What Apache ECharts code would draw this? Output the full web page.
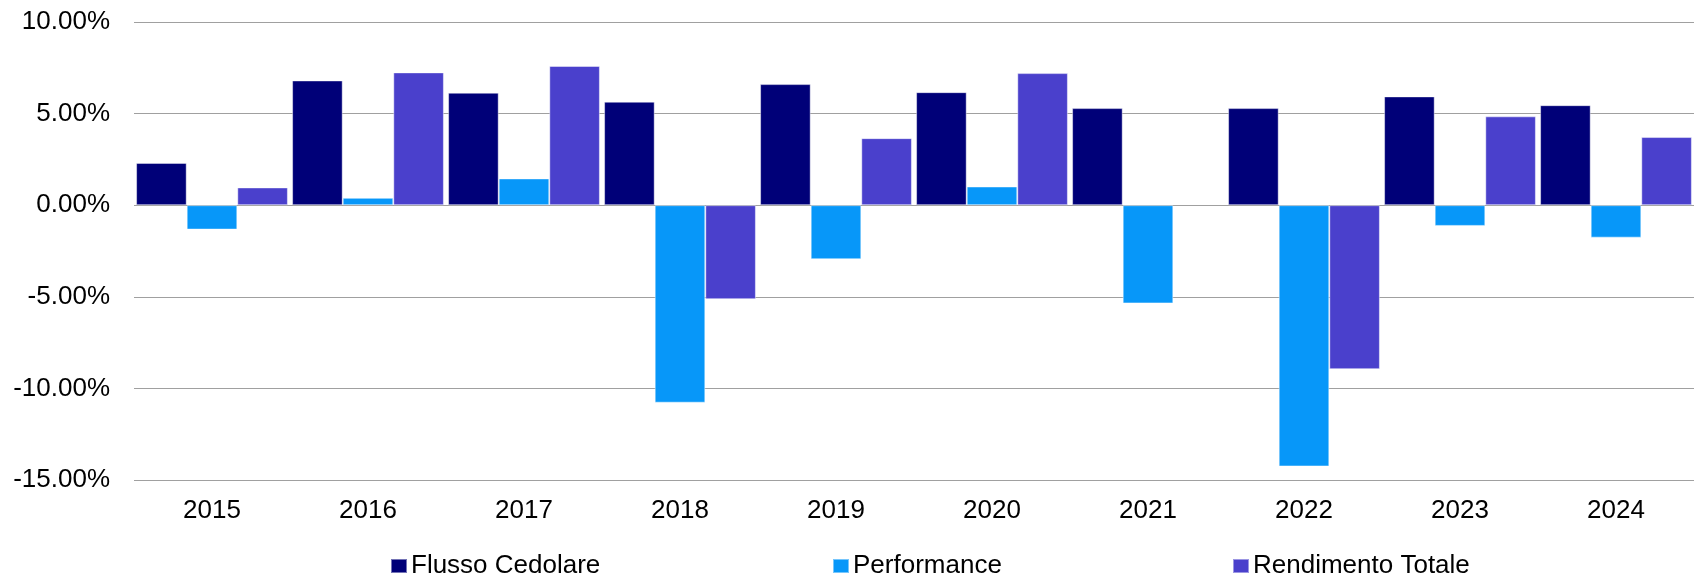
<!DOCTYPE html>
<html>
<head>
<meta charset="utf-8">
<script src="https://cdn.jsdelivr.net/npm/echarts@6/dist/echarts.min.js"></script>
<style>
html,body{margin:0;padding:0;background:#fff;}
#chart{width:1694px;height:574px;}
</style>
</head>
<body>
<div id="chart"></div>
<script>
var categories = ['2015','2016','2017','2018','2019','2020','2021','2022','2023','2024'];
var flussoCedolare = [2.31, 6.81, 6.14, 5.65, 6.61, 6.17, 5.30, 5.30, 5.94, 5.46];
var performance = [-1.33, 0.40, 1.46, -10.78, -2.95, 1.02, -5.36, -14.26, -1.13, -1.77];
var rendimentoTotale = [0.97, 7.25, 7.60, -5.13, 3.66, 7.21, null, -8.95, 4.85, 3.72];
var seriesNames = ['Flusso Cedolare', 'Performance', 'Rendimento Totale'];
var yTicks = { min: -15, max: 10, interval: 5 };

var colors = ['#000078', '#0797F9', '#4A40CC'];
var font = 'Liberation Sans, Arial, sans-serif';

var chart = echarts.init(document.getElementById('chart'), null, { renderer: 'canvas' });

function mkSeries(name, data, color) {
  return {
    name: name,
    type: 'bar',
    data: data,
    barWidth: 50.6,
    barGap: '0%',
    itemStyle: { color: color, borderColor: 'rgba(255,255,255,0.45)', borderWidth: 1 },
    emphasis: { disabled: true }
  };
}

function mkLegend(name, left) {
  return {
    data: [name],
    left: left,
    top: 553,
    itemWidth: 16,
    itemHeight: 14,
    itemGap: 0,
    icon: 'rect',
    selectedMode: false,
    textStyle: { fontFamily: font, fontSize: 26, color: '#000', padding: [0, 0, 0, -1] },
    padding: 0
  };
}

chart.setOption({
  animation: false,
  backgroundColor: '#fff',
  color: colors,
  grid: { left: 134, right: -12, top: 22, bottom: 94, containLabel: false },
  legend: [
    mkLegend(seriesNames[0], 390),
    mkLegend(seriesNames[1], 832),
    mkLegend(seriesNames[2], 1232)
  ],
  xAxis: {
    type: 'category',
    data: categories,
    axisLine: { show: false, onZero: false },
    axisTick: { show: false },
    splitLine: { show: false },
    axisLabel: { fontFamily: font, fontSize: 26, color: '#000', margin: 18, interval: 0 }
  },
  yAxis: {
    type: 'value',
    min: yTicks.min,
    max: yTicks.max,
    interval: yTicks.interval,
    axisLine: { show: false },
    axisTick: { show: false },
    splitLine: { show: true, lineStyle: { color: '#a0a0a0', width: 1 } },
    axisLabel: {
      fontFamily: font, fontSize: 26, color: '#000', margin: 24,
      formatter: function (v) { return v.toFixed(2) + '%'; }
    }
  },
  series: [
    mkSeries(seriesNames[0], flussoCedolare, colors[0]),
    mkSeries(seriesNames[1], performance, colors[1]),
    mkSeries(seriesNames[2], rendimentoTotale, colors[2])
  ]
});
</script>
</body>
</html>
